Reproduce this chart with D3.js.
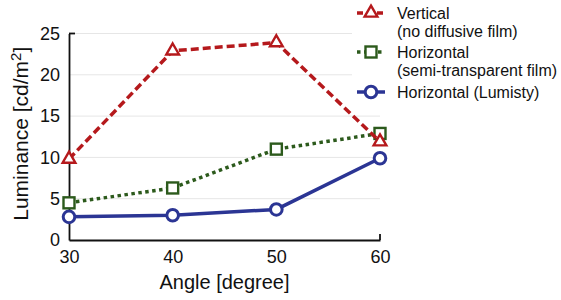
<!DOCTYPE html>
<html>
<head>
<meta charset="utf-8">
<script src="https://cdn.jsdelivr.net/npm/d3@7"></script>
<style>
  body { margin: 0; background: #fff; }
  text { font-family: "Liberation Sans", Arial, sans-serif; fill: #111; }
</style>
</head>
<body>
<div id="chart"></div>
<script>
const angles = [30, 40, 50, 60];
const yTicks = [0, 5, 10, 15, 20, 25];
const vertical = [9.8, 22.9, 23.9, 11.9];
const semiTransparent = [4.5, 6.3, 11.0, 12.9];
const lumisty = [2.8, 3.0, 3.7, 9.9];

const series = [
  { name: ['Vertical', '(no diffusive film)'], values: vertical, color: '#b5191c', dash: '8,4', marker: 'triangle' },
  { name: ['Horizontal', '(semi-transparent film)'], values: semiTransparent, color: '#2c5a1c', dash: '3.5,3.5', marker: 'square' },
  { name: ['Horizontal (Lumisty)'], values: lumisty, color: '#2b3594', dash: null, marker: 'circle' }
];

const config = {
  width: 561,
  height: 300,
  margins: { top: 33.5, right: 181, bottom: 60, left: 69 }
};

const svg = d3.select('#chart').append('svg')
  .attr('width', config.width)
  .attr('height', config.height);

const x = d3.scaleLinear()
  .domain([30, 60])
  .range([config.margins.left, config.width - config.margins.right]);

const y = d3.scaleLinear()
  .domain([0, 25])
  .range([config.height - config.margins.bottom, config.margins.top]);

// grid
svg.append('g')
  .selectAll('line')
  .data(yTicks.filter(d => d > 0))
  .join('line')
    .attr('x1', x(30))
    .attr('x2', x(60))
    .attr('y1', d => y(d))
    .attr('y2', d => y(d))
    .attr('stroke', '#e6e6e6')
    .attr('stroke-width', 1);

// axes: range frame with inward end ticks only
const xAxis = d3.axisBottom(x)
  .tickValues(angles)
  .tickSize(0)
  .tickPadding(10);

const yAxis = d3.axisLeft(y)
  .tickValues(yTicks)
  .tickSize(0)
  .tickPadding(9);

const gx = svg.append('g')
  .attr('transform', `translate(0, ${y(0)})`)
  .call(xAxis);
const gy = svg.append('g')
  .attr('transform', `translate(${x(30)}, 0)`)
  .call(yAxis);

[gx, gy].forEach(g => {
  g.select('path.domain').attr('stroke', '#111').attr('stroke-width', 1.8);
  g.selectAll('.tick text')
    .style('font-family', '"Liberation Sans", Arial, sans-serif')
    .style('font-size', '18px')
    .attr('fill', '#111');
});

svg.append('line')
  .attr('x1', x(60)).attr('x2', x(60))
  .attr('y1', y(0)).attr('y2', y(0) - 6)
  .attr('stroke', '#111').attr('stroke-width', 1.8);
svg.append('line')
  .attr('x1', x(30)).attr('x2', x(30) + 6)
  .attr('y1', y(25)).attr('y2', y(25))
  .attr('stroke', '#111').attr('stroke-width', 1.8);

// axis titles
svg.append('text')
  .attr('x', (x(30) + x(60)) / 2)
  .attr('y', 289)
  .attr('text-anchor', 'middle')
  .style('font-size', '20px')
  .text('Angle [degree]');

const yTitle = svg.append('text')
  .attr('transform', `translate(28, ${(y(0) + y(25)) / 2 - 3}) rotate(-90)`)
  .attr('text-anchor', 'middle')
  .style('font-size', '21px');
yTitle.append('tspan').text('Luminance [cd/m');
yTitle.append('tspan').attr('dy', -7).style('font-size', '15px').text('2');
yTitle.append('tspan').attr('dy', 7).text(']');

function drawMarker(g, s, cx, cy) {
  if (s.marker === 'triangle') {
    g.append('path')
      .attr('d', d3.symbol(d3.symbolTriangle, 70)())
      .attr('transform', `translate(${cx}, ${cy})`)
      .attr('fill', '#fff').attr('stroke', s.color).attr('stroke-width', 2.4);
  } else if (s.marker === 'square') {
    g.append('rect')
      .attr('x', cx - 5.5).attr('y', cy - 5.5)
      .attr('width', 11).attr('height', 11)
      .attr('fill', '#fff').attr('stroke', s.color).attr('stroke-width', 2.4);
  } else {
    g.append('circle')
      .attr('cx', cx).attr('cy', cy).attr('r', 5.8)
      .attr('fill', '#fff').attr('stroke', s.color).attr('stroke-width', 3);
  }
}

const line = d3.line()
  .x((d, i) => x(angles[i]))
  .y(d => y(d));

// draw blue first, red last so red sits on top
[...series].reverse().forEach(s => {
  const g = svg.append('g');
  g.append('path')
    .attr('d', line(s.values))
    .attr('fill', 'none')
    .attr('stroke', s.color)
    .attr('stroke-width', 3.5)
    .attr('stroke-dasharray', s.dash);
  s.values.forEach((v, i) => drawMarker(g, s, x(angles[i]), y(v)));
});

// legend
const legend = svg.append('g');
legend.append('rect')
  .attr('x', 352).attr('y', 0)
  .attr('width', 209).attr('height', 101)
  .attr('fill', '#fff');

const rowY = [13, 52, 92];
series.forEach((s, i) => {
  const ly = rowY[i];
  legend.append('line')
    .attr('x1', 357).attr('x2', 385)
    .attr('y1', ly).attr('y2', ly)
    .attr('stroke', s.color)
    .attr('stroke-width', 3.5)
    .attr('stroke-dasharray', s.dash ? (s.marker === 'triangle' ? '6,4' : '3.5,3.5') : null);
  drawMarker(legend, s, 371, ly);
  s.name.forEach((t, j) => {
    legend.append('text')
      .attr('x', 397)
      .attr('y', ly + 6 + j * 18)
      .style('font-size', '16px')
      .text(t);
  });
});
</script>
</body>
</html>
